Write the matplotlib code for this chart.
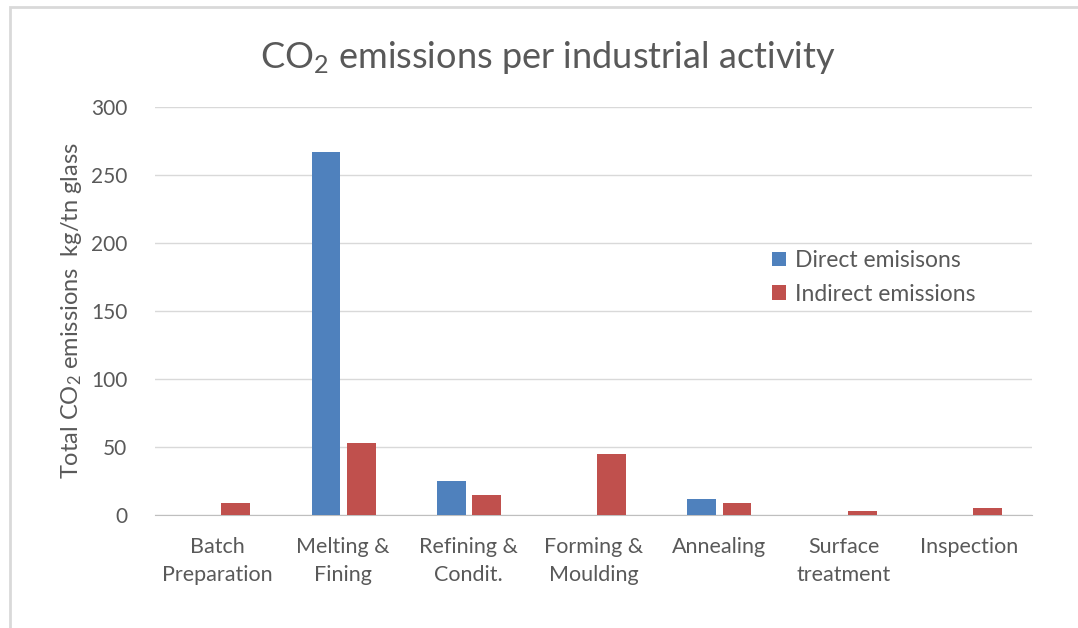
import matplotlib
matplotlib.use("Agg")
import matplotlib.pyplot as plt
import numpy as np
from matplotlib.patches import Rectangle

categories = ["Batch\nPreparation", "Melting &\nFining", "Refining &\nCondit.",
              "Forming &\nMoulding", "Annealing", "Surface\ntreatment", "Inspection"]
direct = [0, 267, 25, 0, 12, 0, 0]
indirect = [9, 53, 15, 45, 9, 3, 5]

BLUE = "#4f81bd"
RED = "#c0504d"
TEXT = "#595959"

plt.rcParams["font.family"] = ["Lato", "DejaVu Sans"]
plt.rcParams["mathtext.fontset"] = "custom"
plt.rcParams["mathtext.rm"] = "Lato"
plt.rcParams["mathtext.it"] = "Lato"

fig = plt.figure(figsize=(10.78, 6.28), dpi=100)
# thin outer frame around the chart area
fig.patches.append(Rectangle((10 / 1078, -0.05), 1.2, (628 - 7) / 628 + 0.05,
                             transform=fig.transFigure, fill=False,
                             edgecolor="#d9d9d9", linewidth=2))

ax = fig.add_axes([155 / 1078, 1 - 515 / 628, 877 / 1078, 408 / 628])
x = np.arange(len(categories))
w = 0.23
ax.bar(x - 0.135, direct, w, color=BLUE, label="Direct emisisons", zorder=3)
ax.bar(x + 0.145, indirect, w, color=RED, label="Indirect emissions", zorder=3)

ax.set_xlim(-0.5, len(categories) - 0.5)
ax.set_ylim(0, 300)
ax.set_yticks(range(0, 301, 50))
ax.yaxis.grid(True, color="#d9d9d9", linewidth=1)
ax.set_axisbelow(True)
for s in ["top", "right", "left"]:
    ax.spines[s].set_visible(False)
ax.spines["bottom"].set_color("#bfbfbf")
ax.tick_params(axis="both", length=0, labelsize=15, colors=TEXT)
ax.tick_params(axis="y", pad=20)
ax.set_xticks(x)
ax.set_xticklabels(categories, va="top", linespacing=1.5, fontsize=15.5)
ax.tick_params(axis="x", pad=16)

ax.set_ylabel("Total CO$_2$ emissions  kg/tn glass", fontsize=17, color=TEXT, labelpad=5)
fig.text(548 / 1078, 1 - 57 / 628, "CO$_2$ emissions per industrial activity",
         ha="center", va="center", fontsize=26, color=TEXT)

ax.legend(loc="upper left", bbox_to_anchor=(0.68, 0.70), frameon=False,
          fontsize=16.5, labelcolor=TEXT, handlelength=0.6, handleheight=0.6,
          handletextpad=0.4, labelspacing=0.55)

fig.savefig("out.png", dpi=100)
